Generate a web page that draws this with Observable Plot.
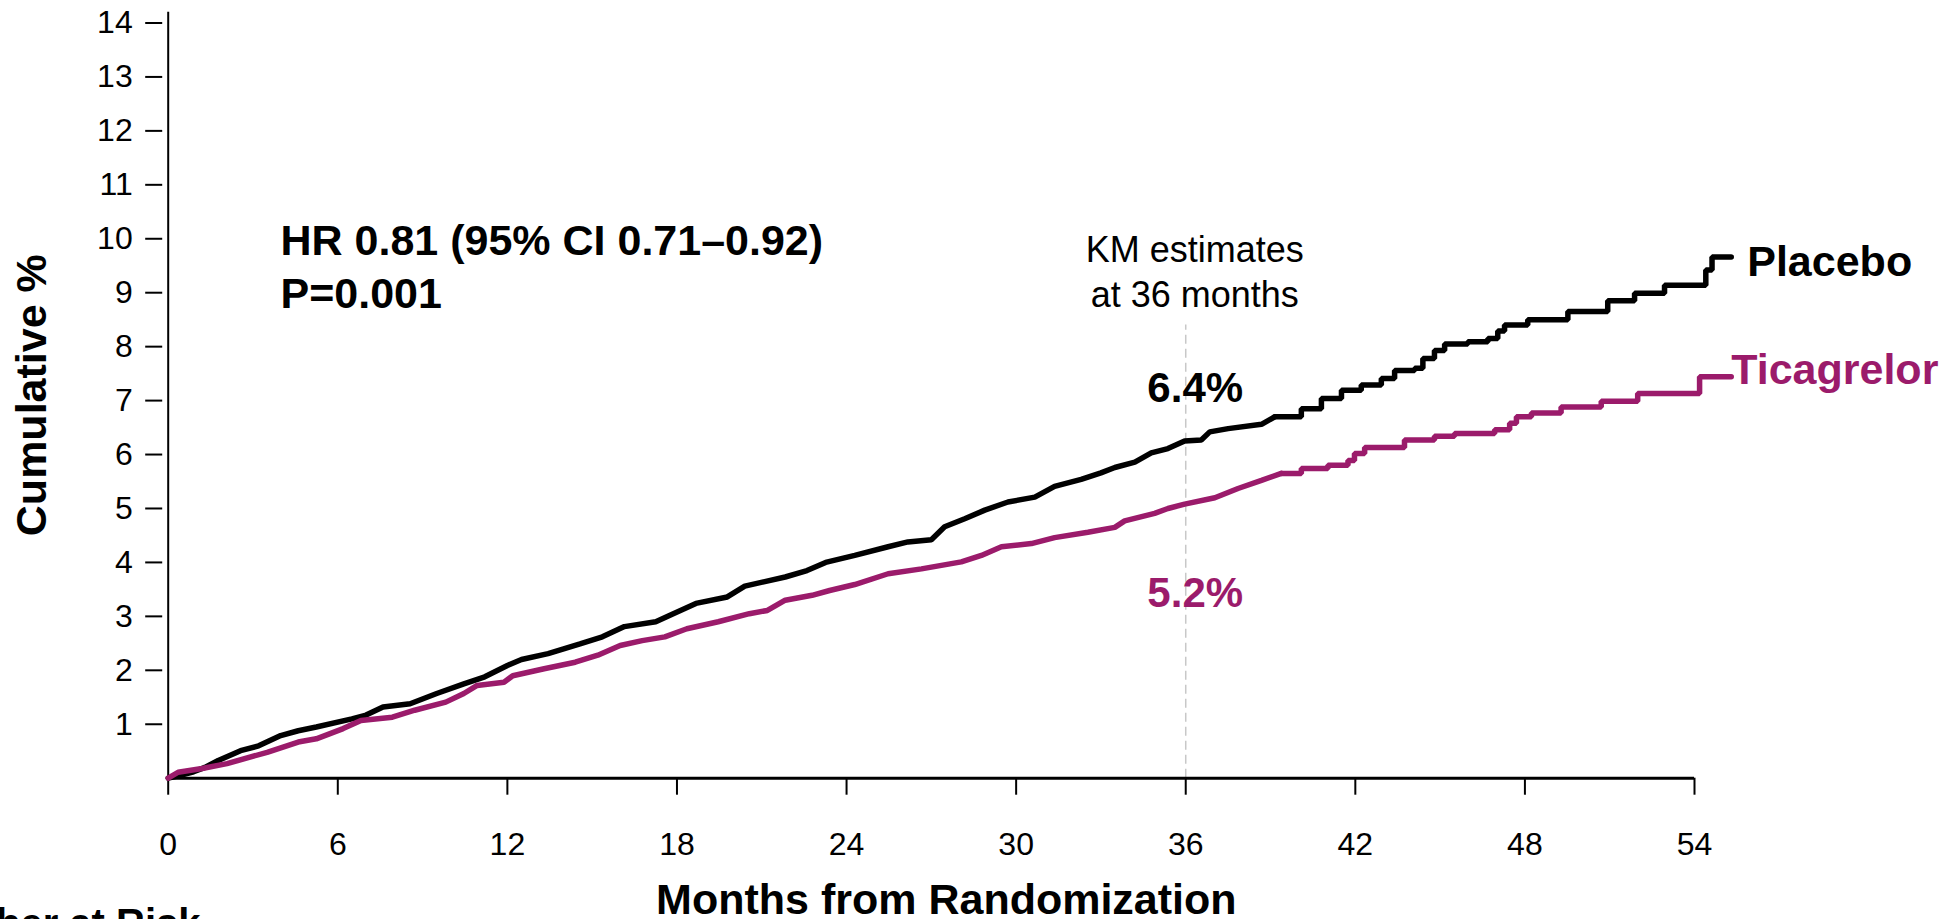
<!DOCTYPE html>
<html>
<head>
<meta charset="utf-8">
<script src="https://cdn.jsdelivr.net/npm/d3@7"></script>
<script src="https://cdn.jsdelivr.net/npm/@observablehq/plot@0.6"></script>
<style>
  html, body { margin: 0; padding: 0; background: #fff; overflow: hidden; }
  #chart svg { display: block; }
</style>
</head>
<body>
<div id="chart"></div>
<script>
// Kaplan–Meier cumulative incidence, months from randomization
const placeboMonths = [0, 0.4, 0.9, 1.3, 1.77, 2.56, 3.2, 3.98, 4.6, 5.24, 6.5, 7.0, 7.6, 8.56, 9.5, 10.46, 11.2, 12.0, 12.5, 13.44, 14.57, 15.36, 16.14, 17.25, 17.87, 18.67, 19.78, 20.4, 21.83, 22.6, 23.26, 24.29, 25.47, 26.17, 27.0, 27.47, 28.18, 28.89, 29.71, 30.66, 31.36, 32.3, 33.0, 33.49, 34.2, 34.78, 35.37, 35.96, 36.55, 36.85, 37.5, 38.68, 39.15, 40.09, 40.8, 41.51, 42.21, 42.92, 43.39, 44.1, 44.39, 44.8, 45.16, 45.98, 46.69, 47.04, 47.28, 48.1, 49.52, 50.93, 51.88, 52.94, 54.4, 54.62, 55.3];
const placeboPct    = [0, 0.05, 0.12, 0.2, 0.33, 0.51, 0.6, 0.79, 0.88, 0.95, 1.1, 1.17, 1.32, 1.38, 1.57, 1.75, 1.88, 2.09, 2.2, 2.31, 2.49, 2.62, 2.81, 2.9, 3.05, 3.24, 3.36, 3.56, 3.73, 3.85, 4.0, 4.13, 4.29, 4.38, 4.42, 4.66, 4.81, 4.97, 5.12, 5.21, 5.41, 5.54, 5.66, 5.76, 5.86, 6.03, 6.11, 6.25, 6.27, 6.42, 6.48, 6.56, 6.7, 6.85, 7.04, 7.19, 7.29, 7.41, 7.56, 7.6, 7.78, 7.93, 8.05, 8.09, 8.15, 8.29, 8.4, 8.5, 8.65, 8.85, 8.99, 9.14, 9.42, 9.66, 9.66];

const ticagrelorMonths = [0, 0.35, 1.2, 2.08, 3.5, 4.6, 5.24, 6.19, 6.82, 7.93, 8.72, 9.82, 10.46, 10.93, 11.88, 12.19, 13.3, 14.4, 15.2, 15.99, 16.77, 17.57, 18.35, 19.46, 20.56, 21.2, 21.83, 22.78, 23.4, 24.29, 25.47, 26.65, 28.06, 28.77, 29.48, 30.54, 31.36, 32.54, 33.49, 33.84, 34.9, 35.37, 35.96, 37.03, 37.85, 38.68, 39.38, 40.09, 41.03, 41.74, 41.97, 42.33, 43.74, 44.8, 45.51, 46.93, 47.46, 47.7, 48.23, 49.28, 50.7, 51.99, 54.18, 55.3];
const ticagrelorPct    = [0, 0.11, 0.18, 0.27, 0.48, 0.67, 0.73, 0.92, 1.07, 1.13, 1.26, 1.41, 1.57, 1.72, 1.78, 1.9, 2.03, 2.15, 2.28, 2.46, 2.55, 2.62, 2.77, 2.9, 3.05, 3.11, 3.3, 3.39, 3.48, 3.59, 3.79, 3.88, 4.01, 4.13, 4.29, 4.35, 4.46, 4.56, 4.65, 4.77, 4.91, 5.0, 5.08, 5.2, 5.37, 5.52, 5.65, 5.74, 5.8, 5.89, 6.02, 6.13, 6.27, 6.34, 6.39, 6.46, 6.58, 6.7, 6.77, 6.88, 6.99, 7.13, 7.44, 7.44];

const seriesNames = ["Placebo", "Ticagrelor"];
const seriesColors = ["#000000", "#9b1b6b"];

// KM estimates at the 36-month landmark (Placebo, Ticagrelor)
const landmarkMonth = 36;
const km36 = [6.4, 5.2];

const xTicks = [0, 6, 12, 18, 24, 30, 36, 42, 48, 54];
const yTicks = [1, 2, 3, 4, 5, 6, 7, 8, 9, 10, 11, 12, 13, 14];

const statsText = "HR 0.81 (95% CI 0.71\u20130.92)\nP=0.001";
const landmarkText = "KM estimates\nat 36 months";
const xLabel = "Months from Randomization";
const yLabel = "Cumulative %";
const riskLabel = "Number at Risk";

// long-format rows for the curves
const rows = [
  ...placeboMonths.map((m, i) => ({series: seriesNames[0], month: m, pct: placeboPct[i]})),
  ...ticagrelorMonths.map((m, i) => ({series: seriesNames[1], month: m, pct: ticagrelorPct[i]}))
];
// where events are dense the many tiny steps read as a continuous line;
// later, with fewer patients at risk, the individual steps are drawn
const denseUntil = 40;
const denseRows = rows.filter(d => d.month <= denseUntil);
const sparseRows = seriesNames.flatMap(s => {
  const r = rows.filter(d => d.series === s);
  const k = r.findIndex(d => d.month > denseUntil);
  return r.slice(k - 1);
});
const kmRows = seriesNames.map((s, i) => ({series: s, month: landmarkMonth, pct: km36[i]}));
const lastOf = s => rows.filter(d => d.series === s).slice(-1);

const font = "'Liberation Sans', Arial, Helvetica, sans-serif";

const chart = Plot.plot({
  width: 1954,
  height: 919,
  marginLeft: 167.7,
  marginRight: 260,
  marginTop: 11.7,
  marginBottom: 141.3,
  style: {background: "white", color: "black", fontFamily: font, overflow: "visible"},
  x: {domain: [0, 54]},
  y: {domain: [0, 14.2]},
  color: {domain: seriesNames, range: seriesColors},
  marks: [
    // landmark guide
    Plot.ruleX([landmarkMonth], {y1: 0, y2: 8.4, stroke: "#c8c8c8", strokeWidth: 1.5, strokeDasharray: "9,5"}),
    // axes
    Plot.axisY(yTicks, {tickSize: 17, tickPadding: 13, dx: -5.5, fontSize: 32, strokeWidth: 2, tickFormat: d => String(d), label: null}),
    Plot.axisX(xTicks, {tickSize: 17, tickPadding: 37, fontSize: 32, strokeWidth: 2, tickFormat: d => String(d), label: null}),
    Plot.ruleY([0], {strokeWidth: 3}),
    Plot.ruleX([0], {strokeWidth: 2}),
    // curves
    Plot.line(denseRows, {x: "month", y: "pct", z: "series", stroke: "series", curve: "linear", strokeWidth: 5.5, strokeLinejoin: "miter", clip: false}),
    Plot.line(sparseRows, {x: "month", y: "pct", z: "series", stroke: "series", curve: "step-after", strokeWidth: 5.5, strokeLinejoin: "miter", clip: false}),
    // series labels at curve ends
    Plot.text(lastOf(seriesNames[0]), {x: "month", y: "pct", text: "series", fill: seriesColors[0], textAnchor: "start", lineAnchor: "bottom", dx: 16, dy: 19, fontSize: 43, fontWeight: "bold"}),
    Plot.text(lastOf(seriesNames[1]), {x: "month", y: "pct", text: "series", fill: seriesColors[1], textAnchor: "start", lineAnchor: "bottom", dx: 0, dy: 7, fontSize: 43, fontWeight: "bold"}),
    // KM estimates at 36 months
    Plot.text([landmarkText], {x: () => landmarkMonth, frameAnchor: "top", textAnchor: "middle", lineAnchor: "bottom", lineHeight: 1.25, dx: 9, dy: 294.3, fontSize: 36}),
    Plot.text(kmRows.slice(0, 1), {x: "month", y: "pct", text: d => d.pct.toFixed(1) + "%", fill: seriesColors[0], textAnchor: "middle", lineAnchor: "bottom", dx: 9.5, dy: -30.5, fontSize: 42, fontWeight: "bold"}),
    Plot.text(kmRows.slice(1, 2), {x: "month", y: "pct", text: d => d.pct.toFixed(1) + "%", fill: seriesColors[1], textAnchor: "middle", lineAnchor: "bottom", dx: 9.5, dy: 109.5, fontSize: 42, fontWeight: "bold"}),
    // hazard ratio annotation
    Plot.text([statsText], {frameAnchor: "top-left", textAnchor: "start", lineAnchor: "bottom", lineHeight: 53 / 43, dx: 112.3, dy: 295.3, fontSize: 43, fontWeight: "bold"}),
    // axis titles
    Plot.text([yLabel], {frameAnchor: "left", rotate: -90, textAnchor: "middle", lineAnchor: "middle", dx: -135.5, fontSize: 43, fontWeight: "bold"}),
    Plot.text([xLabel], {frameAnchor: "bottom", textAnchor: "middle", lineAnchor: "bottom", dx: 15, dy: 135.3, fontSize: 43, fontWeight: "bold"}),
    Plot.text([riskLabel], {frameAnchor: "bottom-left", textAnchor: "end", lineAnchor: "bottom", dx: 32.3, dy: 159, fontSize: 40, fontWeight: "bold"})
  ]
});

document.getElementById("chart").append(chart);
</script>
</body>
</html>
